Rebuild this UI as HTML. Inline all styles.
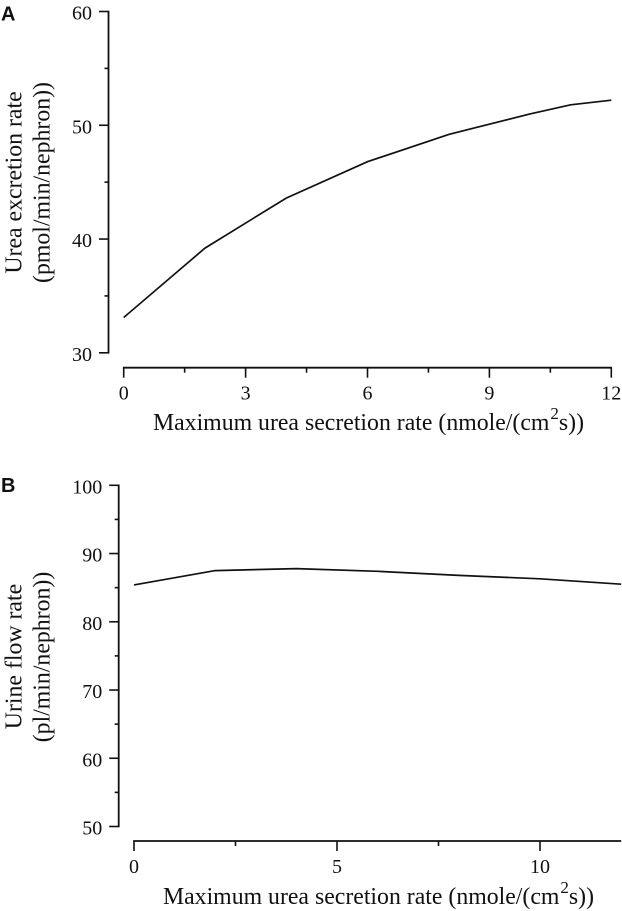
<!DOCTYPE html>
<html>
<head>
<meta charset="utf-8">
<title>Urea secretion charts</title>
<style>
html,body{margin:0;padding:0;background:#fff;}
svg{display:block;}
text{font-family:"Liberation Serif",serif;fill:#111;}
.panel{font-family:"Liberation Sans",sans-serif;font-weight:bold;font-size:20px;}
.tick{font-size:20px;}
.title{font-size:23.8px;}
</style>
</head>
<body>
<svg id="fig" xmlns="http://www.w3.org/2000/svg" width="622" height="911" viewBox="0 0 622 911">
  <text class="panel" x="1" y="20.5">A</text>
  <text class="panel" x="1" y="492">B</text>

  <text class="title" transform="translate(21.5,182.5) rotate(-90)" text-anchor="middle">Urea excretion rate</text>
  <text class="title" transform="translate(49.5,182.5) rotate(-90)" text-anchor="middle">(pmol/min/nephron))</text>
  <text class="title" x="368.5" y="430" text-anchor="middle">Maximum urea secretion rate (nmole/(cm<tspan dx="1" dy="-11" font-size="17">2</tspan><tspan dy="11">s))</tspan></text>

  <text class="title" transform="translate(21.5,656.5) rotate(-90)" text-anchor="middle">Urine flow rate</text>
  <text class="title" transform="translate(49.5,657) rotate(-90)" text-anchor="middle">(pl/min/nephron))</text>
  <text class="title" x="378.5" y="904" text-anchor="middle">Maximum urea secretion rate (nmole/(cm<tspan dx="1" dy="-11" font-size="17">2</tspan><tspan dy="11">s))</tspan></text>
</svg>
<script>
const aRate = [0, 2, 4, 6, 8, 10, 11, 12];
const aExcretion = [33.1, 39.2, 43.6, 46.8, 49.2, 51.0, 51.8, 52.2];
const aXTicks = [0, 3, 6, 9, 12];
const aXMinor = [1.5, 4.5, 7.5, 10.5];
const aYTicks = [30, 40, 50, 60];
const aYMinor = [35, 45, 55];

const bRate = [0, 2, 4, 6, 8, 10, 12];
const bFlow = [85.4, 87.5, 87.8, 87.4, 86.8, 86.3, 85.5];
const bXTicks = [0, 5, 10];
const bXMinor = [2.5, 7.5];
const bYTicks = [50, 60, 70, 80, 90, 100];
const bYMinor = [55, 65, 75, 85, 95];

const NS = 'http://www.w3.org/2000/svg';
const fig = document.getElementById('fig');

function line(x1, y1, x2, y2, width) {
  const el = document.createElementNS(NS, 'line');
  el.setAttribute('x1', x1);
  el.setAttribute('y1', y1);
  el.setAttribute('x2', x2);
  el.setAttribute('y2', y2);
  el.setAttribute('stroke', '#111');
  el.setAttribute('stroke-width', width);
  fig.appendChild(el);
  return el;
}

function label(x, y, anchor, str) {
  const el = document.createElementNS(NS, 'text');
  el.setAttribute('class', 'tick');
  el.setAttribute('x', x);
  el.setAttribute('y', y);
  el.setAttribute('text-anchor', anchor);
  el.textContent = str;
  fig.appendChild(el);
  return el;
}

function drawPanel(p, xs, ys, xTicks, xMinor, yTicks, yMinor) {
  const sx = v => p.x0 + (v - p.xMin) * (p.x1 - p.x0) / (p.xMax - p.xMin);
  const sy = v => p.y0 + (v - p.yMin) * (p.y1 - p.y0) / (p.yMax - p.yMin);

  const yAxis = line(p.axisX, sy(p.yMax) - 0.8, p.axisX, sy(p.yMin) + 0.8, 1.8);
  
  

  const xAxis = line(sx(p.xMin) - 0.8, p.axisY, p.xEnd, p.axisY, 1.8);
  
  

  yTicks.forEach(v => {
    const t = line(p.axisX - 9.5, sy(v), p.axisX, sy(v), 1.6);
    
    
    const l = label(p.axisX - 16.5, sy(v) + 8, 'end', String(v));
    
    
  });
  yMinor.forEach(v => {
    const t = line(p.axisX - 4, sy(v), p.axisX, sy(v), 1.6);
    
    
  });
  xTicks.forEach(v => {
    const t = line(sx(v), p.axisY, sx(v), p.axisY + 10, 1.6);
    
    
    const l = label(sx(v), p.axisY + 32, 'middle', String(v));
    
    
  });
  xMinor.forEach(v => {
    const t = line(sx(v), p.axisY, sx(v), p.axisY + 5, 1.6);
    
    
  });

  const path = document.createElementNS(NS, 'polyline');
  path.setAttribute('points', xs.map((x, i) => sx(x).toFixed(1) + ',' + sy(ys[i]).toFixed(1)).join(' '));
  path.setAttribute('fill', 'none');
  path.setAttribute('stroke', '#111');
  path.setAttribute('stroke-width', '1.7');
  
  
  fig.appendChild(path);
}

drawPanel(
  {id: 'panel-a', xMin: 0, xMax: 12, yMin: 30, yMax: 60, x0: 123.7, x1: 611.3, y0: 352.8, y1: 11.5, axisX: 108.5, axisY: 367.7, xEnd: 612},
  aRate, aExcretion, aXTicks, aXMinor, aYTicks, aYMinor
);
drawPanel(
  {id: 'panel-b', xMin: 0, xMax: 12, yMin: 50, yMax: 100, x0: 134, x1: 621.2, y0: 826.5, y1: 485.3, axisX: 118.7, axisY: 841, xEnd: 621.2},
  bRate, bFlow, bXTicks, bXMinor, bYTicks, bYMinor
);
</script>
</body>
</html>
